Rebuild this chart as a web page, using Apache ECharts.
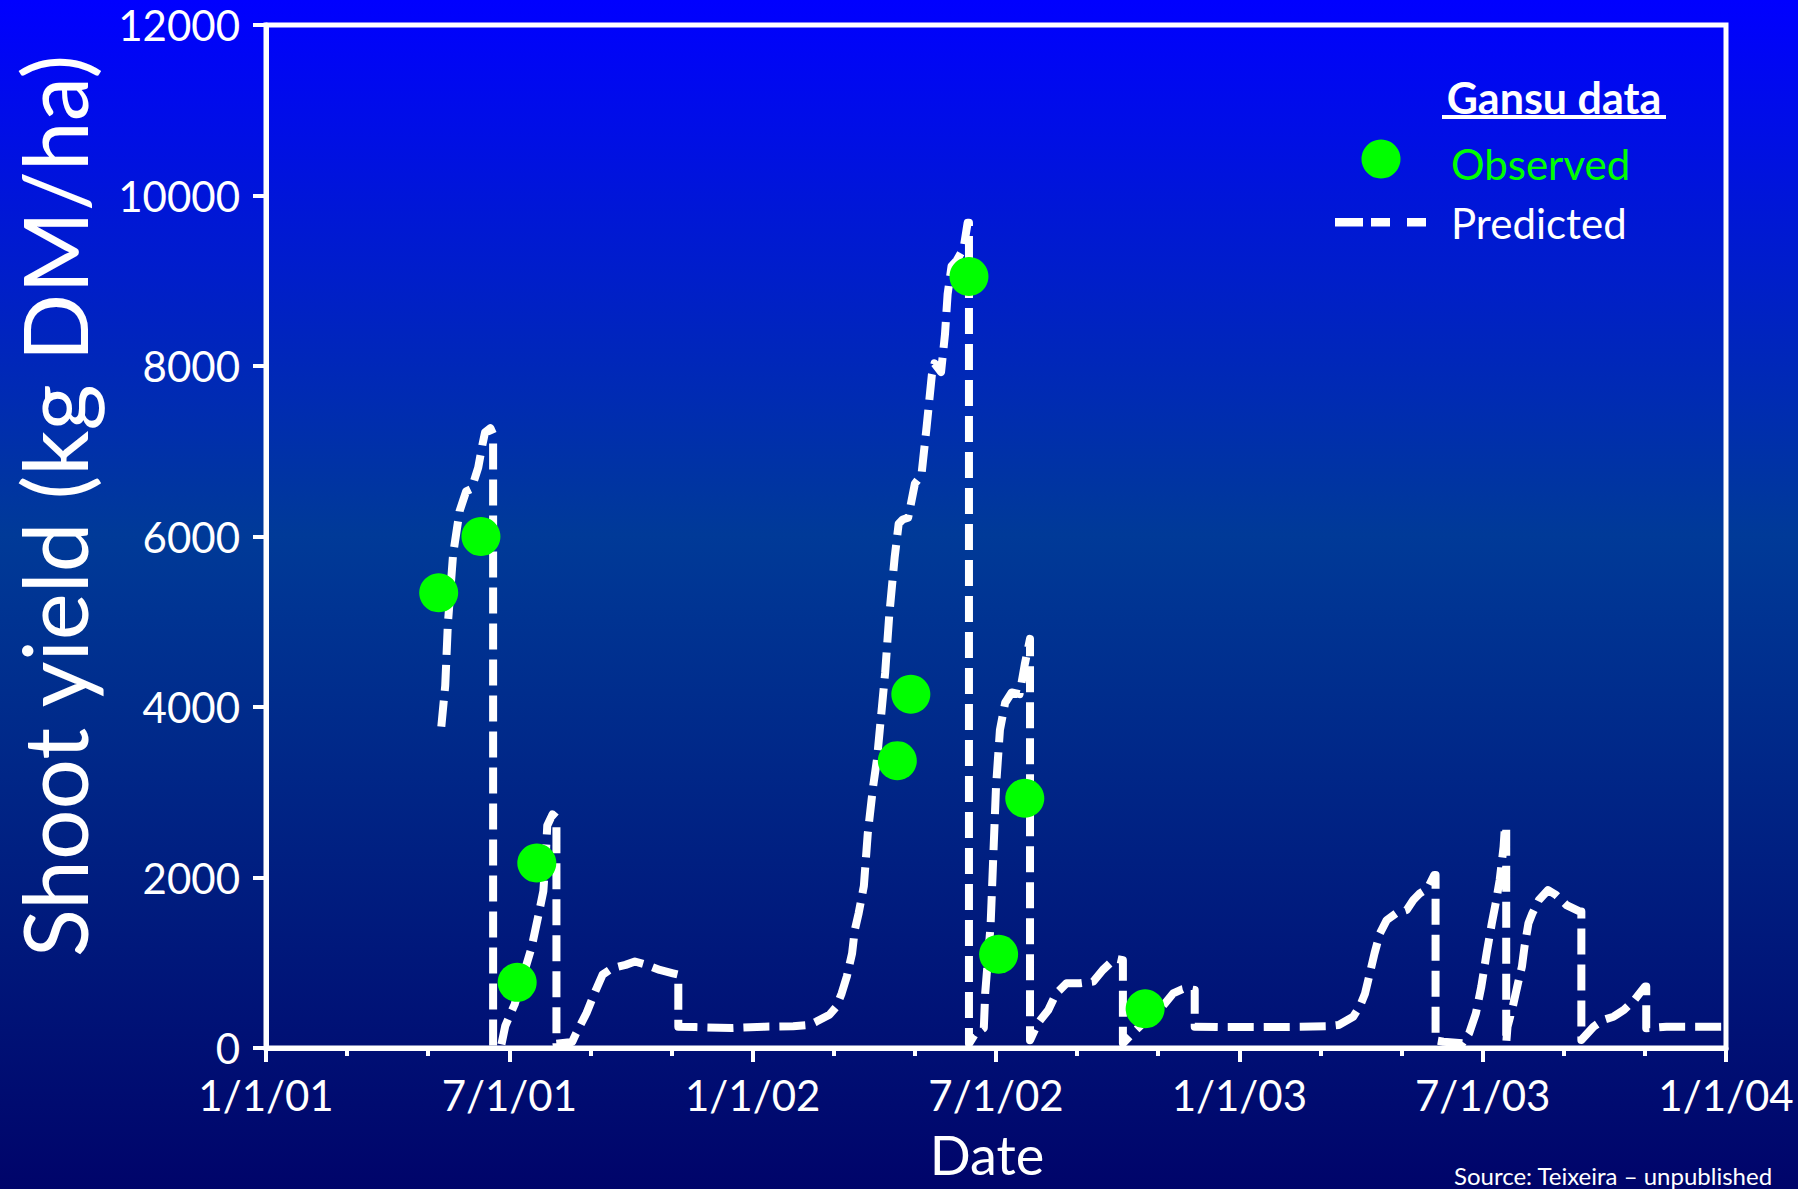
<!DOCTYPE html>
<html>
<head>
<meta charset="utf-8">
<script src="https://cdn.jsdelivr.net/npm/echarts@6/dist/echarts.min.js"></script>
<style>
  html, body { margin: 0; padding: 0; }
  #chart { width: 1798px; height: 1189px; }
</style>
</head>
<body>
<div id="chart"></div>
<script>
// ---- data ----
const xTickLabels = ['1/1/01', '7/1/01', '1/1/02', '7/1/02', '1/1/03', '7/1/03', '1/1/04'];
const yTickValues = [0, 2000, 4000, 6000, 8000, 10000, 12000];

const obsDates = ['2001-05-09','2001-06-10','2001-07-07','2001-07-22','2002-04-18','2002-04-28','2002-06-11','2002-07-03','2002-07-23','2002-10-22'];
const obsValues = [5340, 6000, 770, 2170, 3370, 4150, 9050, 1100, 2930, 460];

const predDates = [
  '2001-05-11','2001-05-14','2001-05-16','2001-05-20','2001-05-25','2001-05-30','2001-06-03','2001-06-08','2001-06-11','2001-06-13','2001-06-17','2001-06-19',
  '2001-06-19','2001-06-23','2001-06-25','2001-06-28','2001-07-05','2001-07-11','2001-07-18','2001-07-23','2001-07-27','2001-07-29','2001-07-30','2001-08-03','2001-08-06',
  '2001-08-06','2001-08-18','2001-08-21','2001-08-29','2001-09-05','2001-09-10','2001-09-17','2001-09-27','2001-10-04','2001-10-13','2001-10-23','2001-11-02','2001-11-06',
  '2001-11-06','2001-11-19','2001-12-16','2002-01-10','2002-02-01','2002-02-12','2002-02-17','2002-02-26','2002-03-03','2002-03-07','2002-03-11','2002-03-15','2002-03-17',
  '2002-03-20','2002-03-24','2002-03-27','2002-03-31','2002-04-03','2002-04-05','2002-04-09','2002-04-12','2002-04-16','2002-04-19','2002-04-22','2002-04-26','2002-05-01',
  '2002-05-06','2002-05-10','2002-05-14','2002-05-16','2002-05-20','2002-05-21','2002-05-24','2002-05-26','2002-05-29','2002-06-02','2002-06-07','2002-06-10','2002-06-11',
  '2002-06-11','2002-06-15','2002-06-22','2002-06-23','2002-06-27','2002-06-29','2002-07-01','2002-07-04','2002-07-08','2002-07-13','2002-07-19','2002-07-23','2002-07-27',
  '2002-07-27','2002-08-02','2002-08-10','2002-08-16','2002-08-24','2002-09-03','2002-09-13','2002-09-20','2002-09-29','2002-10-05',
  '2002-10-05','2002-10-15','2002-10-23','2002-11-02','2002-11-12','2002-11-19','2002-11-22','2002-11-28',
  '2002-11-28','2002-12-16','2003-01-16','2003-02-15','2003-03-06','2003-03-15','2003-03-26','2003-03-31','2003-04-04','2003-04-07','2003-04-11','2003-04-15','2003-04-20',
  '2003-04-27','2003-05-05','2003-05-10','2003-05-15','2003-05-21','2003-05-26','2003-05-27',
  '2003-05-27','2003-06-02','2003-06-16','2003-06-21','2003-06-26','2003-06-30','2003-07-04','2003-07-08','2003-07-11','2003-07-14','2003-07-17','2003-07-18','2003-07-19',
  '2003-07-19','2003-07-20','2003-07-24','2003-07-28','2003-07-31','2003-08-02','2003-08-05','2003-08-08','2003-08-13','2003-08-20','2003-08-26','2003-09-03','2003-09-13','2003-09-14',
  '2003-09-14','2003-09-23','2003-09-30','2003-10-08','2003-10-16','2003-10-24','2003-11-01','2003-11-02',
  '2003-11-02','2003-11-17','2003-12-30'
];
const predValues = [
  3770,4250,4970,5790,6300,6530,6560,6810,7070,7220,7270,7200,
  20,20,30,260,510,820,1180,1540,1840,2300,2610,2740,2700,
  50,70,170,410,680,860,935,975,1015,975,915,875,860,
  250,245,235,250,255,270,310,390,485,640,840,1110,1380,
  1580,1900,2520,3060,3390,3730,4400,5070,5750,6150,6200,6220,6620,
  6720,7290,7900,8030,7950,7930,8370,8840,9170,9240,9380,9680,9680,
  50,150,235,640,1440,2250,3060,3730,4050,4170,4150,4500,4800,
  90,290,446,640,760,760,780,915,1050,1030,
  55,210,330,446,640,690,700,680,
  250,245,245,248,255,270,367,485,640,840,1110,1345,1500,
  1580,1620,1736,1815,1873,2030,2030,
  90,74,55,172,407,720,1110,1463,1700,1970,2360,2600,2600,
  55,250,485,760,954,1190,1463,1580,1736,1853,1795,1677,1600,1600,
  94,250,328,367,446,563,720,720,
  231,250,250
];

// ---- helpers ----
function toMonths(s) {
  const p = s.split('-').map(Number);
  const dim = new Date(Date.UTC(p[0], p[1], 0)).getUTCDate();
  return (p[0] - 2001) * 12 + (p[1] - 1) + (p[2] - 1) / dim;
}
const predData = predDates.map((d, i) => [toMonths(d), predValues[i]]);
const obsData = obsDates.map((d, i) => [toMonths(d), obsValues[i]]);

const FONT = 'Lato, "Noto Sans", sans-serif';
const chart = echarts.init(document.getElementById('chart'), null, { renderer: 'svg' });

chart.setOption({
  animation: false,
  backgroundColor: {
    type: 'linear', x: 0, y: 0, x2: 0, y2: 1,
    colorStops: [
      { offset: 0, color: '#0000FF' },
      { offset: 0.45, color: '#003A98' },
      { offset: 1, color: '#00046A' }
    ]
  },
  grid: {
    left: 266, top: 25, width: 1460, height: 1023,
    show: true, borderColor: '#FFFFFF', borderWidth: 5, backgroundColor: 'transparent'
  },
  xAxis: {
    type: 'value', min: 0, max: 36, interval: 6,
    axisLine: { show: true, onZero: false, lineStyle: { color: '#FFFFFF', width: 5 } },
    axisTick: { show: true, length: 14, lineStyle: { color: '#FFFFFF', width: 4 } },
    minorTick: { show: true, splitNumber: 3, length: 8, lineStyle: { color: '#FFFFFF', width: 4 } },
    splitLine: { show: false },
    axisLabel: {
      color: '#FFFFFF', fontSize: 42, fontFamily: FONT, margin: 26,
      formatter: v => xTickLabels[Math.round(v / 6)]
    }
  },
  yAxis: {
    type: 'value', min: yTickValues[0], max: yTickValues[yTickValues.length - 1], interval: 2000,
    axisLine: { show: true, lineStyle: { color: '#FFFFFF', width: 5 } },
    axisTick: { show: true, length: 13, lineStyle: { color: '#FFFFFF', width: 4 } },
    splitLine: { show: false },
    axisLabel: { color: '#FFFFFF', fontSize: 42, fontFamily: FONT, margin: 26, formatter: v => String(v) }
  },
  series: [
    {
      name: 'Predicted', type: 'line', data: predData, symbol: 'none', z: 2,
      lineStyle: { color: '#FFFFFF', width: 8, type: [26, 10], cap: 'butt', join: 'round' }
    },
    {
      name: 'Observed', type: 'scatter', data: obsData, symbol: 'circle', symbolSize: 39, z: 3,
      itemStyle: { color: '#00FF00', opacity: 1 }
    }
  ],
  graphic: [
    { type: 'text', x: 53, y: 506, rotation: Math.PI / 2,
      style: { text: 'Shoot yield (kg DM/ha)', fill: '#FFFFFF', font: '89px ' + FONT, textAlign: 'center', textVerticalAlign: 'middle' } },
    { type: 'text', x: 987, y: 1154,
      style: { text: 'Date', fill: '#FFFFFF', font: '54px ' + FONT, textAlign: 'center', textVerticalAlign: 'middle' } },
    { type: 'text', x: 1454, y: 1187,
      style: { text: 'Source: Teixeira \u2013 unpublished', fill: '#FFFFFF', font: '24px ' + FONT, textAlign: 'left', textVerticalAlign: 'bottom' } },
    // legend
    { type: 'text', x: 1554, y: 97,
      style: { text: 'Gansu data', fill: '#FFFFFF', font: 'bold 43px ' + FONT, textAlign: 'center', textVerticalAlign: 'middle' } },
    { type: 'rect', shape: { x: 1442, y: 115, width: 224, height: 4 }, style: { fill: '#FFFFFF' } },
    { type: 'circle', shape: { cx: 1381, cy: 159, r: 19.5 }, style: { fill: '#00FF00' } },
    { type: 'text', x: 1451, y: 164,
      style: { text: 'Observed', fill: '#00FF00', font: '42px ' + FONT, textAlign: 'left', textVerticalAlign: 'middle' } },
    { type: 'rect', shape: { x: 1335, y: 218, width: 28, height: 8.5 }, style: { fill: '#FFFFFF' } },
    { type: 'rect', shape: { x: 1371, y: 218, width: 19, height: 8.5 }, style: { fill: '#FFFFFF' } },
    { type: 'rect', shape: { x: 1407, y: 218, width: 19, height: 8.5 }, style: { fill: '#FFFFFF' } },
    { type: 'text', x: 1451, y: 223,
      style: { text: 'Predicted', fill: '#FFFFFF', font: '42px ' + FONT, textAlign: 'left', textVerticalAlign: 'middle' } }
  ]
});
</script>
</body>
</html>
